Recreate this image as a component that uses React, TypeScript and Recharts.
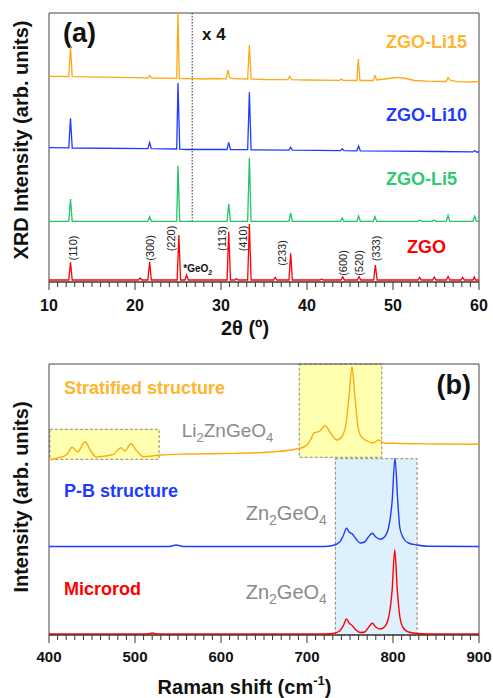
import React from 'react';
import { LineChart, Line, XAxis, YAxis, ReferenceArea, ReferenceLine } from 'recharts';

const FONT = '"Liberation Sans", Arial, Helvetica, sans-serif';

type P = [number, number];

// ---------- Panel (a) XRD: [2theta, intensity (offset, arb.)] ----------
const xrdZGO: P[] = [
  [10, 2], [12.3, 2], [12.5, 19.7], [12.7, 2], [20.4, 2], [20.6, 4], [20.8, 2], [21.5, 2], [21.7, 20.3], [21.9, 2],
  [24.9, 2], [25.1, 47], [25.3, 2], [25.8, 2], [26.0, 7], [26.2, 2], [30.7, 2], [30.9, 50.3], [31.1, 2], [31.6, 2],
  [31.8, 3.5], [32.0, 2], [33.1, 2], [33.3, 58], [33.5, 2], [36.1, 2], [36.3, 4.5], [36.5, 2], [37.9, 2], [38.1, 28.7],
  [38.3, 2], [41.5, 2], [41.7, 3], [41.9, 2], [43.95, 2], [44.15, 5.3], [44.35, 2], [45.85, 2], [46.05, 5.3], [46.25, 2],
  [47.75, 2], [47.95, 17], [48.15, 2], [52.9, 2], [53.1, 4.5], [53.3, 2], [54.6, 2], [54.8, 5], [55.0, 2], [56.2, 2],
  [56.4, 5.5], [56.6, 2], [57.9, 2], [58.1, 4.5], [58.3, 2], [59.3, 2], [59.45, 5], [59.6, 2], [60, 2],
];
const xrdLi5: P[] = [
  [10, 60.7], [12.3, 60.7], [12.5, 83], [12.7, 60.7], [21.5, 60.7], [21.7, 65.3], [21.9, 60.7], [24.85, 60.7], [25.0, 116.3],
  [25.2, 60.7], [30.7, 60.7], [30.9, 78], [31.1, 60.7], [33.1, 60.7], [33.3, 124.3], [33.5, 60.7], [37.9, 60.7], [38.1, 69],
  [38.3, 60.7], [43.9, 60.7], [44.1, 64], [44.3, 60.7], [45.8, 60.7], [46.0, 66], [46.2, 60.7], [47.7, 60.7], [47.9, 65.3],
  [48.1, 60.7], [52.9, 60.7], [53.1, 62], [53.3, 60.7], [54.6, 60.7], [54.8, 62], [55.0, 60.7], [56.2, 60.7], [56.4, 66.7],
  [56.6, 60.7], [59.3, 60.7], [59.5, 65.7], [59.7, 60.7], [60, 60.7],
];
const xrdLi10: P[] = [
  [10, 134.3], [12.3, 134.1], [12.5, 163.7], [12.7, 134], [21.5, 133.3], [21.7, 139.5], [21.9, 133.3], [24.85, 133],
  [25.0, 199], [25.2, 132.8], [26, 132.5], [30.7, 132.5], [30.9, 139.7], [31.1, 132.4], [33.1, 132.3], [33.3, 189.7],
  [33.5, 132.2], [37.9, 131.9], [38.1, 134.7], [38.3, 131.9], [43.9, 131.4], [44.1, 133.3], [44.3, 131.4], [45.8, 131.2],
  [46.0, 136], [46.2, 131.2], [50, 130.9], [55, 130.5], [59.3, 130.1], [59.5, 131.5], [59.7, 130], [60, 130],
];
const xrdLi15: P[] = [
  [10, 205.7], [12.3, 205.5], [12.5, 235.3], [12.7, 205.3], [16, 204.8], [20, 204.3], [21.5, 204], [21.7, 206.5], [21.9, 204],
  [24.85, 203.6], [25.0, 269], [25.15, 203.5], [26.7, 203.3], [28, 203], [29, 203.5], [30.6, 203.2], [30.8, 212], [31.0, 204.5],
  [31.4, 203.5], [32, 203.2], [33.1, 203], [33.3, 237], [33.5, 203], [35, 202.5], [37.8, 202.3], [38.0, 205.7], [38.2, 202.3],
  [40, 202], [43.8, 201.7], [44.0, 203], [44.2, 201.7], [45.8, 201.5], [45.97, 223.3], [46.15, 201.5], [47.7, 201.5],
  [47.9, 206.3], [48.1, 202], [49, 203], [50, 204], [50.6, 204.7], [51.5, 203.5], [52.5, 201.5], [54, 200.8], [56.2, 200.5],
  [56.4, 204.3], [56.7, 201.5], [57.5, 200.3], [59, 200], [60, 200.5],
];

// ---------- Panel (b) Raman: [shift, intensity (offset, arb.)] ----------
const ramanMicrorod: P[] = [
  [400, 1], [515, 1], [520, 2], [525, 1], [720, 1], [730, 1.5], [738, 4], [742, 9], [746, 16], [749, 12], [753, 9], [757, 5],
  [762, 2.5], [767, 3], [771, 7], [776, 11.7], [780, 8], [785, 6], [790, 8], [795, 18], [799, 45], [802, 85], [805, 45],
  [808, 18], [812, 7], [818, 3], [828, 1.5], [840, 1], [900, 1],
];
const ramanPB: P[] = [
  [400, 88.5], [540, 88.5], [548, 90], [556, 88.5], [720, 88.5], [730, 89.5], [738, 93], [742, 99], [746, 106.7], [749, 103],
  [753, 100.7], [757, 96], [762, 92], [767, 93], [771, 97.5], [776, 101.7], [780, 98], [785, 95.7], [790, 98], [795, 108],
  [799, 134], [802.3, 176.7], [805.5, 134], [808, 107], [812, 97], [818, 92], [828, 90], [840, 88.8], [900, 88.5],
];
const ramanStratified: P[] = [
  [400, 175], [410, 177], [420, 180], [427, 187.7], [433, 183], [442, 193.3], [448, 185], [455, 178], [465, 179], [475, 180.7],
  [483.7, 187.3], [488, 184], [495.3, 191.3], [502, 184], [510, 178.3], [520, 179], [530, 180], [560, 181], [600, 181.5],
  [650, 182.5], [692, 186.7], [700, 190], [704, 195], [708.5, 202.3], [714, 203.3], [721, 209.3], [728, 201], [735, 195],
  [741, 199], [746, 215], [749, 240], [752.3, 268.3], [755.5, 240], [759, 210], [763, 198.3], [770, 194], [777, 192],
  [783, 195], [790, 192], [800, 191.7], [850, 191], [900, 190.7],
];

const xrdMajor = [10, 20, 30, 40, 50, 60];
const xrdTicks = Array.from({ length: 51 }, (_, i) => 10 + i);
const ramanMajor = [400, 500, 600, 700, 800, 900];
const ramanTicks = Array.from({ length: 51 }, (_, i) => 400 + i * 10);

const hkl: { t: string; x: number; y: number }[] = [
  { t: '(110)', x: 72.5, y: 248 },
  { t: '(300)', x: 149.5, y: 248 },
  { t: '(220)', x: 170.5, y: 238.5 },
  { t: '(113)', x: 221.5, y: 238.5 },
  { t: '(410)', x: 243, y: 238.5 },
  { t: '(233)', x: 282, y: 253 },
  { t: '(600)', x: 342.5, y: 263 },
  { t: '(520)', x: 359, y: 263 },
  { t: '(333)', x: 376, y: 248.5 },
];

const C_ORANGE = '#FFAA14';
const C_ORANGE_T = '#FFB52E';
const C_BLUE = '#1F3BFF';
const C_GREEN = '#22C46A';
const C_RED = '#FF0000';

const rows = (pts: P[]) => pts.map(([x, y]) => ({ x, y }));

const makeTick = (majors: number[], fs: number, off: number) => (props: any) => {
  const { x, y, payload } = props;
  const major = majors.includes(payload.value);
  return (
    <g>
      <line x1={x} x2={x} y1={y} y2={y + (major ? 8 : 5)} stroke="#333" strokeWidth={1} />
      {major && (
        <text x={x} y={y + off} textAnchor="middle" fontFamily={FONT} fontWeight="bold" fontSize={fs} fill="#111">
          {payload.value}
        </text>
      )}
    </g>
  );
};

const txt = (x: number, y: number, s: React.ReactNode, o: any = {}) => (
  <text x={x} y={y} fontFamily={FONT} dominantBaseline="central" {...o}>
    {s}
  </text>
);

export default function App() {
  return (
    <div style={{ position: 'absolute', left: 0, top: 0, width: 493, height: 698, background: '#fff' }}>
      <div style={{ position: 'absolute', left: 0, top: 0 }}>
        <LineChart width={493} height={345} margin={{ top: 13, right: 14, left: 49, bottom: 0 }}>
          <XAxis
            type="number"
            dataKey="x"
            domain={[10, 60]}
            ticks={xrdTicks}
            interval={0}
            tickSize={0}
            tickMargin={0}
            tickLine={false}
            tick={makeTick(xrdMajor, 16, 29)}
            axisLine={{ stroke: '#333' }}
            height={63}
            allowDataOverflow
          />
          <YAxis hide type="number" domain={[0, 269]} allowDataOverflow />
          <ReferenceArea x1={10} x2={60} y1={0} y2={269} fill="none" stroke="#444" strokeWidth={1} />
          <ReferenceLine
            segment={[{ x: 26.65, y: 60.5 }, { x: 26.65, y: 269 }]}
            stroke="#333"
            strokeDasharray="1.5 1.5"
          />
          <Line data={rows(xrdZGO)} dataKey="y" type="linear" stroke={C_RED} strokeWidth={1.3} dot={false} isAnimationActive={false} />
          <Line data={rows(xrdLi5)} dataKey="y" type="linear" stroke={C_GREEN} strokeWidth={1.3} dot={false} isAnimationActive={false} />
          <Line data={rows(xrdLi10)} dataKey="y" type="linear" stroke={C_BLUE} strokeWidth={1.3} dot={false} isAnimationActive={false} />
          <Line data={rows(xrdLi15)} dataKey="y" type="linear" stroke={C_ORANGE} strokeWidth={1.3} dot={false} isAnimationActive={false} />
          {txt(63, 33, '(a)', { fontSize: 27, fontWeight: 'bold', fill: '#111' })}
          {txt(202, 34, 'x 4', { fontSize: 17, fontWeight: 'bold', fill: '#111' })}
          {txt(386, 42, 'ZGO-Li15', { fontSize: 18, fontWeight: 'bold', fill: C_ORANGE_T })}
          {txt(386, 115.3, 'ZGO-Li10', { fontSize: 18, fontWeight: 'bold', fill: C_BLUE })}
          {txt(386, 179.3, 'ZGO-Li5', { fontSize: 18, fontWeight: 'bold', fill: '#2BCB6F' })}
          {txt(407, 246.7, 'ZGO', { fontSize: 18, fontWeight: 'bold', fill: C_RED })}
          <text x={183.3} y={272} fontFamily={FONT} fontSize={10} fontWeight="bold" fill="#111">
            *GeO<tspan dy={3} fontSize={7}>2</tspan>
          </text>
          {hkl.map((h) => (
            <text
              key={h.t}
              x={h.x}
              y={h.y}
              transform={`rotate(-90 ${h.x} ${h.y})`}
              textAnchor="middle"
              dominantBaseline="central"
              fontFamily={FONT}
              fontSize={11}
              fill="#222"
            >
              {h.t}
            </text>
          ))}
          <text
            x={20.5}
            y={140}
            transform="rotate(-90 20.5 140)"
            textAnchor="middle"
            dominantBaseline="central"
            fontFamily={FONT}
            fontSize={20}
            fontWeight="bold"
            fill="#111"
          >
            XRD Intensity (arb. units)
          </text>
          {txt(245, 328, '2θ (º)', { fontSize: 20, fontWeight: 'bold', fill: '#111', textAnchor: 'middle' })}
        </LineChart>
      </div>
      <div style={{ position: 'absolute', left: 0, top: 345 }}>
        <LineChart width={493} height={353} margin={{ top: 19, right: 14, left: 49, bottom: 0 }}>
          <XAxis
            type="number"
            dataKey="x"
            domain={[400, 900]}
            ticks={ramanTicks}
            interval={0}
            tickSize={0}
            tickMargin={0}
            tickLine={false}
            tick={makeTick(ramanMajor, 15, 27)}
            axisLine={{ stroke: '#333' }}
            height={63}
            allowDataOverflow
          />
          <YAxis hide type="number" domain={[0, 271]} allowDataOverflow />
          <ReferenceArea x1={401} x2={528} y1={175.7} y2={205.7} fill="#FFFFB0" fillOpacity={1} stroke="#8C8A66" strokeDasharray="3 2" />
          <ReferenceArea x1={691} x2={787} y1={177.7} y2={271} fill="#FFFFB0" fillOpacity={1} stroke="#8C8A66" strokeDasharray="3 2" />
          <ReferenceArea x1={733} x2={828} y1={0} y2={176.3} fill="#DDF0FC" fillOpacity={1} stroke="#8C8A66" strokeDasharray="3 2" />
          <ReferenceArea x1={400} x2={900} y1={0} y2={271} fill="none" stroke="#444" strokeWidth={1} />
          <Line data={rows(ramanMicrorod)} dataKey="y" type="monotone" stroke={C_RED} strokeWidth={1.4} dot={false} isAnimationActive={false} />
          <Line data={rows(ramanPB)} dataKey="y" type="monotone" stroke={C_BLUE} strokeWidth={1.4} dot={false} isAnimationActive={false} />
          <Line data={rows(ramanStratified)} dataKey="y" type="monotone" stroke={C_ORANGE} strokeWidth={1.4} dot={false} isAnimationActive={false} />
          {txt(64, 43, 'Stratified structure', { fontSize: 18, fontWeight: 'bold', fill: C_ORANGE_T })}
          {txt(64, 146, 'P-B structure', { fontSize: 18, fontWeight: 'bold', fill: C_BLUE })}
          {txt(64, 244, 'Microrod', { fontSize: 18, fontWeight: 'bold', fill: C_RED })}
          {txt(471, 40, '(b)', { fontSize: 27, fontWeight: 'bold', fill: '#111', textAnchor: 'end' })}
          <text x={181.7} y={92} fontFamily={FONT} fontSize={19} fill="#8A8A8A">
            Li<tspan dy={5} fontSize={13}>2</tspan>
            <tspan dy={-5}>ZnGeO</tspan>
            <tspan dy={5} fontSize={13}>4</tspan>
          </text>
          <text x={245.7} y={175} fontFamily={FONT} fontSize={20} fill="#8A8A8A">
            Zn<tspan dy={5} fontSize={14}>2</tspan>
            <tspan dy={-5}>GeO</tspan>
            <tspan dy={5} fontSize={14}>4</tspan>
          </text>
          <text x={245.7} y={254} fontFamily={FONT} fontSize={20} fill="#8A8A8A">
            Zn<tspan dy={5} fontSize={14}>2</tspan>
            <tspan dy={-5}>GeO</tspan>
            <tspan dy={5} fontSize={14}>4</tspan>
          </text>
          <text
            x={20.5}
            y={152}
            transform="rotate(-90 20.5 152)"
            textAnchor="middle"
            dominantBaseline="central"
            fontFamily={FONT}
            fontSize={20}
            fontWeight="bold"
            fill="#111"
          >
            Intensity (arb. units)
          </text>
          <text x={244.5} y={348.5} textAnchor="middle" fontFamily={FONT} fontSize={20} fontWeight="bold" fill="#111">
            Raman shift (cm<tspan dy={-9} fontSize={13}>-1</tspan>
            <tspan dy={9}>)</tspan>
          </text>
        </LineChart>
      </div>
    </div>
  );
}
